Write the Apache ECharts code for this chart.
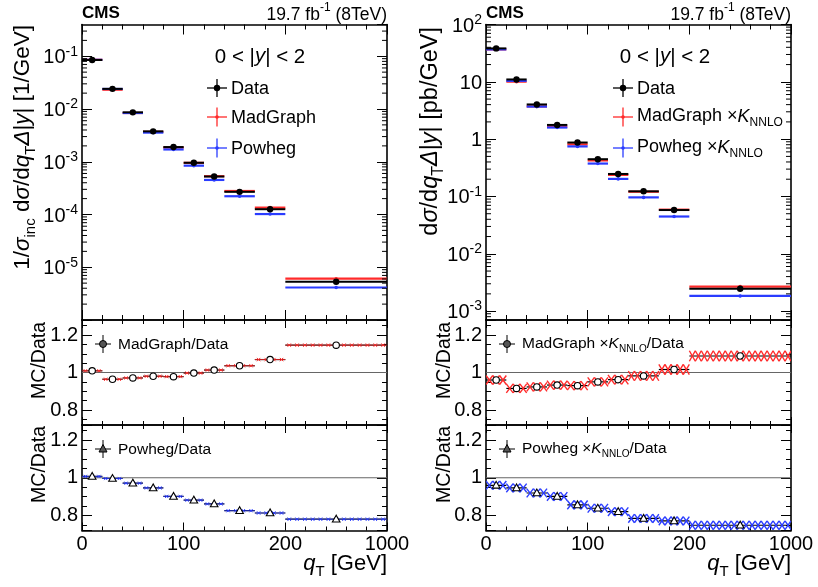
<!DOCTYPE html>
<html><head><meta charset="utf-8">
<script src="https://cdn.jsdelivr.net/npm/echarts@6/dist/echarts.min.js"></script>
<style>html,body{margin:0;padding:0;background:#fff}#c{width:818px;height:587px}</style>
</head><body><div id="c"></div>
<script>
// ---------------- data ----------------
const binEdgesGeV = [0, 20, 40, 60, 80, 100, 120, 140, 170, 200, 1000];
const xTickValuesGeV = [0, 100, 200, 1000];
const xTickLabels = ['0', '100', '200', '1000'];

// left column: normalised cross section 1/sigma_inc dsigma/dqT [1/GeV]
const normData      = [0.085, 0.0241, 0.00865, 0.00377, 0.00190, 0.000957, 0.000525, 0.000269, 0.000126, 5.3e-6];
const normDataErr   = [0.01, 0.01, 0.01, 0.015, 0.015, 0.02, 0.02, 0.025, 0.03, 0.08];
const normMadGraph  = [0.0858, 0.0232, 0.0084, 0.00369, 0.00186, 0.000954, 0.000532, 0.000279, 0.000135, 6.07e-6];
const normPowheg    = [0.0856, 0.0240, 0.0084, 0.00357, 0.00171, 0.000843, 0.000452, 0.000222, 0.000102, 4.13e-6];
const normMcErr     = [0.01, 0.01, 0.01, 0.01, 0.01, 0.01, 0.015, 0.015, 0.02, 0.05];
const ratioMadGraphNorm    = [1.009, 0.964, 0.971, 0.980, 0.978, 0.997, 1.013, 1.036, 1.069, 1.146];
const ratioMadGraphNormErr = [0.002, 0.004, 0.005, 0.006, 0.007, 0.007, 0.008, 0.008, 0.009, 0.009];
const ratioPowhegNorm      = [1.007, 0.996, 0.971, 0.946, 0.901, 0.881, 0.861, 0.825, 0.813, 0.780];
const ratioPowhegNormErr   = [0.003, 0.004, 0.005, 0.006, 0.007, 0.007, 0.008, 0.008, 0.009, 0.009];

// right column: absolute cross section dsigma/dqT [pb/GeV]
const absData       = [38.3, 11.0, 4.03, 1.77, 0.873, 0.447, 0.247, 0.123, 0.058, 0.00246];
const absDataErr    = [0.02, 0.02, 0.02, 0.02, 0.025, 0.025, 0.03, 0.03, 0.035, 0.08];
const absMadGraphK  = [36.8, 10.07, 3.72, 1.65, 0.812, 0.425, 0.238, 0.121, 0.0589, 0.00268];
const absPowhegK    = [36.8, 10.4, 3.70, 1.595, 0.747, 0.375, 0.2025, 0.0964, 0.0447, 0.00184];
const absMcErr      = [0.02, 0.02, 0.02, 0.02, 0.02, 0.02, 0.025, 0.025, 0.03, 0.05];
const ratioMadGraphK    = [0.960, 0.915, 0.923, 0.933, 0.930, 0.950, 0.962, 0.982, 1.016, 1.088];
const ratioMadGraphKErr = [0.024, 0.024, 0.024, 0.024, 0.024, 0.024, 0.025, 0.026, 0.027, 0.028];
const ratioPowhegK      = [0.960, 0.946, 0.919, 0.901, 0.856, 0.838, 0.820, 0.784, 0.771, 0.748];
const ratioPowhegKErr   = [0.023, 0.023, 0.023, 0.023, 0.023, 0.023, 0.023, 0.023, 0.023, 0.023];

const ratioReference = [1, 1];

// ---------------- helpers ----------------
const FONT = '"Liberation Sans", Arial, Helvetica, sans-serif';
const RED = '#ff2a2a', BLUE = '#2a3cff';
// broken q_T scale: 0-200 GeV linear, 200-1000 GeV compressed 8x
function qAxis(q) { return q <= 200 ? q : 200 + (q - 200) / 8; }
const X_MAX = qAxis(1000);

function topRows(vals, rel) {
  return vals.map((v, i) => [qAxis(binEdgesGeV[i]), qAxis(binEdgesGeV[i + 1]), v, v * (1 - rel[i]), v * (1 + rel[i])]);
}
function ratioRows(vals, err) {
  return vals.map((v, i) => [qAxis(binEdgesGeV[i]), qAxis(binEdgesGeV[i + 1]), v, v - err[i], v + err[i]]);
}
function xLabel(v) {
  const i = xTickValuesGeV.findIndex(q => Math.abs(qAxis(q) - v) < 1e-6);
  return i >= 0 ? xTickLabels[i] : '';
}
function logLabel(v) {
  const e = Math.round(Math.log10(v));
  if (e === 0) return '{b|1}';
  if (e === 1) return '{b|10}';
  return '{b|10}{s|' + e + '}';
}
const logRich = {
  b: {fontSize: 20, fontFamily: FONT, color: '#000', verticalAlign: 'top', padding: [3, 0, 0, 0]},
  s: {fontSize: 14, fontFamily: FONT, color: '#000', verticalAlign: 'top'}
};

function topRender(color, r, lw) {
  return function (params, api) {
    const x0 = api.value(0), x1 = api.value(1), v = api.value(2);
    const pa = api.coord([x0, v]), pb = api.coord([x1, v]);
    const xm = (pa[0] + pb[0]) / 2;
    const yl = api.coord([x0, api.value(3)])[1], yh = api.coord([x0, api.value(4)])[1];
    return {type: 'group', children: [
      {type: 'line', shape: {x1: pa[0], y1: pa[1], x2: pb[0], y2: pb[1]}, style: {stroke: color, lineWidth: lw}},
      {type: 'line', shape: {x1: xm, y1: yl, x2: xm, y2: yh}, style: {stroke: color, lineWidth: 1.2}},
      {type: 'circle', shape: {cx: xm, cy: pa[1], r: r}, style: {fill: color}}
    ]};
  };
}

function ratioRender(color, marker, mode, period, hatchW) {
  return function (params, api) {
    const x0 = api.value(0), x1 = api.value(1), v = api.value(2);
    const pa = api.coord([x0, v]), pb = api.coord([x1, v]);
    const yh = api.coord([x0, api.value(4)])[1], yl = api.coord([x0, api.value(3)])[1];
    const xa = pa[0], xb = pb[0], y = pa[1], xm = (xa + xb) / 2;
    const ch = [];
    ch.push({type: 'line', shape: {x1: xa, y1: y, x2: xb, y2: y}, style: {stroke: '#000', lineWidth: 1.2}});
    const n = Math.max(1, Math.round((xb - xa) / period));
    const w = (xb - xa) / n;
    if (mode === 'zigzag') {
      for (let k = 0; k < n; k++) {
        const u = xa + k * w;
        ch.push({type: 'line', shape: {x1: u, y1: yh, x2: u + w, y2: yl}, style: {stroke: color, lineWidth: hatchW}});
        ch.push({type: 'line', shape: {x1: u, y1: yl, x2: u + w, y2: yh}, style: {stroke: color, lineWidth: hatchW}});
      }
    } else {
      const h = Math.max(1.6, (yl - yh) / 2);
      ch.push({type: 'line', shape: {x1: xa, y1: y, x2: xb, y2: y}, style: {stroke: color, lineWidth: 1, opacity: 0.8}});
      for (let k = 0; k < n; k++) {
        const cx = xa + (k + 0.5) * w;
        ch.push({type: 'line', shape: {x1: cx - h, y1: y - h, x2: cx + h, y2: y + h}, style: {stroke: color, lineWidth: hatchW}});
        ch.push({type: 'line', shape: {x1: cx - h, y1: y + h, x2: cx + h, y2: y - h}, style: {stroke: color, lineWidth: hatchW}});
      }
    }
    if (marker === 'circle') {
      ch.push({type: 'circle', shape: {cx: xm, cy: y, r: 3.2}, style: {fill: '#fff', stroke: '#000', lineWidth: 1.1}});
    } else {
      ch.push({type: 'polygon', shape: {points: [[xm, y - 4], [xm - 3.8, y + 2.8], [xm + 3.8, y + 2.8]]}, style: {fill: '#fff', stroke: '#000', lineWidth: 1.1}});
    }
    return {type: 'group', children: ch};
  };
}

function minorTickRender(len) {
  return function (params, api) {
    const cs = params.coordSys;
    const y = api.coord([0, api.value(1)])[1];
    return {type: 'group', children: [
      {type: 'line', shape: {x1: cs.x, y1: y, x2: cs.x + len, y2: y}, style: {stroke: '#000', lineWidth: 1}},
      {type: 'line', shape: {x1: cs.x + cs.width - len, y1: y, x2: cs.x + cs.width, y2: y}, style: {stroke: '#000', lineWidth: 1}}
    ]};
  };
}
function logMinorValues(min, max) {
  const out = [];
  for (let d = -8; d <= 3; d++) for (let k = 2; k <= 9; k++) {
    const v = k * Math.pow(10, d);
    if (v > min * 1.0001 && v < max * 0.9999) out.push([0, v]);
  }
  return out;
}

// ---------------- layout ----------------
const COLS = [82, 486];
const GRID_W = 305;
const PANELS = [{top: 24.5, height: 295.5}, {top: 320, height: 105}, {top: 425, height: 105.5}];

const tops = [
  {min: 1e-6, max: 0.4, data: topRows(normData, normDataErr), mg: topRows(normMadGraph, normMcErr), pw: topRows(normPowheg, normMcErr)},
  {min: 7e-4, max: 100, data: topRows(absData, absDataErr), mg: topRows(absMadGraphK, absMcErr), pw: topRows(absPowhegK, absMcErr)}
];
const ratios = [
  [ {vals: ratioRows(ratioMadGraphNorm, ratioMadGraphNormErr), color: RED, marker: 'circle', mode: 'x', period: 8, hw: 1},
    {vals: ratioRows(ratioPowhegNorm, ratioPowhegNormErr), color: BLUE, marker: 'triangle', mode: 'x', period: 8, hw: 1} ],
  [ {vals: ratioRows(ratioMadGraphK, ratioMadGraphKErr), color: RED, marker: 'circle', mode: 'zigzag', period: 6, hw: 1.4},
    {vals: ratioRows(ratioPowhegK, ratioPowhegKErr), color: BLUE, marker: 'triangle', mode: 'zigzag', period: 6, hw: 1.4} ]
];

const grids = [], xAxes = [], yAxes = [], series = [];
const axisLine = {show: true, onZero: false, lineStyle: {color: '#000', width: 1.6}};

for (let c = 0; c < 2; c++) {
  for (let p = 0; p < 3; p++) {
    const g = c * 3 + p;
    grids.push({left: COLS[c], top: PANELS[p].top, width: GRID_W, height: PANELS[p].height, containLabel: false, outerBoundsMode: 'none'});
    const majorLen = p === 0 ? 10 : 8, minorLen = p === 0 ? 5 : 4;
    ['bottom', 'top'].forEach((pos, k) => {
      xAxes.push({
        type: 'value', gridIndex: g, position: pos, min: 0, max: X_MAX, interval: 100,
        axisLine: axisLine,
        axisTick: {show: true, inside: true, length: majorLen, lineStyle: {color: '#000', width: 1}},
        minorTick: {show: true, splitNumber: 5, length: minorLen, lineStyle: {color: '#000', width: 1}},
        splitLine: {show: false}, minorSplitLine: {show: false},
        axisLabel: {show: p === 2 && k === 0, formatter: xLabel, color: '#000', fontSize: 20, fontFamily: FONT, margin: 4, showMinLabel: true, showMaxLabel: true}
      });
    });
    ['left', 'right'].forEach((pos, k) => {
      if (p === 0) {
        yAxes.push({
          type: 'log', logBase: 10, gridIndex: g, position: pos, min: tops[c].min, max: tops[c].max,
          axisLine: axisLine,
          axisTick: {show: true, inside: true, length: 10, lineStyle: {color: '#000', width: 1}},
          minorTick: {show: false}, splitLine: {show: false}, minorSplitLine: {show: false},
          axisLabel: {show: k === 0, formatter: logLabel, rich: logRich, margin: 4, showMinLabel: false, showMaxLabel: c === 1}
        });
      } else {
        yAxes.push({
          type: 'value', gridIndex: g, position: pos, min: 0.72, max: 1.28, splitNumber: 3,
          axisLine: axisLine,
          axisTick: {show: true, inside: true, length: 10, lineStyle: {color: '#000', width: 1}},
          minorTick: {show: true, splitNumber: 4, length: 5, lineStyle: {color: '#000', width: 1}},
          splitLine: {show: false}, minorSplitLine: {show: false},
          axisLabel: {show: k === 0, color: '#000', fontSize: 20, fontFamily: FONT, margin: 4, showMinLabel: false, showMaxLabel: false,
            formatter: v => Math.abs(v - 1) < 1e-9 ? '1' : v.toFixed(1)}
        });
      }
    });
    const xi = 2 * g, yi = 2 * g;
    if (p === 0) {
      const t = tops[c];
      series.push({type: 'custom', name: c ? 'MadGraph x K_NNLO' : 'MadGraph', xAxisIndex: xi, yAxisIndex: yi, data: t.mg, encode: {x: [0, 1], y: [2, 3, 4]}, renderItem: topRender(RED, 1.8, 2.2), z: 2, silent: true});
      series.push({type: 'custom', name: c ? 'Powheg x K_NNLO' : 'Powheg', xAxisIndex: xi, yAxisIndex: yi, data: t.pw, encode: {x: [0, 1], y: [2, 3, 4]}, renderItem: topRender(BLUE, 1.8, 2.2), z: 3, silent: true});
      series.push({type: 'custom', name: 'Data', xAxisIndex: xi, yAxisIndex: yi, data: t.data, encode: {x: [0, 1], y: [2, 3, 4]}, renderItem: topRender('#000', 3.2, 2), z: 4, silent: true});
      series.push({type: 'custom', name: 'minor ticks', xAxisIndex: xi, yAxisIndex: yi, data: logMinorValues(t.min, t.max), encode: {x: 0, y: 1}, renderItem: minorTickRender(5), z: 5, silent: true});
    } else {
      const r = ratios[c][p - 1];
      series.push({type: 'line', xAxisIndex: xi, yAxisIndex: yi, data: [[0, ratioReference[0]], [X_MAX, ratioReference[1]]], symbol: 'none', silent: true,
        lineStyle: {color: '#666', width: 1.2}, z: 1});
      series.push({type: 'custom', xAxisIndex: xi, yAxisIndex: yi, data: r.vals, encode: {x: [0, 1], y: [2, 3, 4]},
        renderItem: ratioRender(r.color, r.marker, r.mode, r.period, r.hw), z: 3, silent: true, clip: true});
    }
  }
}

// ---------------- texts, legends ----------------
function rich(size) {
  const sub = Math.round(size * 0.66);
  return {
    n: {fontSize: size, fontFamily: FONT, color: '#000', verticalAlign: 'top'},
    i: {fontSize: size, fontFamily: FONT, color: '#000', fontStyle: 'italic', verticalAlign: 'top'},
    g: {fontSize: size, fontFamily: FONT, color: '#000', fontStyle: 'italic', verticalAlign: 'top'},
    bb: {fontSize: size, fontFamily: FONT, color: '#000', fontWeight: 'bold', verticalAlign: 'top'},
    nd: {fontSize: size, fontFamily: FONT, color: '#000', verticalAlign: 'top', padding: [4, 0, 0, 0]},
    sub: {fontSize: sub, fontFamily: FONT, color: '#000', verticalAlign: 'top', padding: [Math.round(size * 0.52), 0, 0, 0]},
    sup: {fontSize: sub, fontFamily: FONT, color: '#000', verticalAlign: 'top'}
  };
}
const graphics = [];
function addText(x, y, text, size, align, vAlign, rotation) {
  graphics.push({type: 'text', x: x, y: y, rotation: rotation || 0, silent: true,
    style: {text: text, rich: rich(size), align: align, verticalAlign: vAlign || 'middle', fontFamily: FONT, fontSize: size, fill: '#000'}});
}
function addLine(x1, y1, x2, y2, color, lw) {
  graphics.push({type: 'line', silent: true, shape: {x1, y1, x2, y2}, style: {stroke: color, lineWidth: lw || 1}});
}
function legendCross(cx, cy, color, r, hw, hh) {
  addLine(cx - hw, cy, cx + hw, cy, color, 1.3);
  addLine(cx, cy - hh, cx, cy + hh, color, 1.3);
  graphics.push({type: 'circle', silent: true, shape: {cx, cy, r}, style: {fill: color}});
}
function ratioLegend(cx, cy, marker) {
  addLine(cx - 8, cy, cx + 8, cy, '#000', 1);
  addLine(cx, cy - 9, cx, cy + 9, '#000', 1);
  if (marker === 'circle') graphics.push({type: 'circle', silent: true, shape: {cx, cy, r: 3.5}, style: {fill: '#555', stroke: '#000', lineWidth: 1}});
  else graphics.push({type: 'polygon', silent: true, shape: {points: [[cx, cy - 4.5], [cx - 4, cy + 3], [cx + 4, cy + 3]]}, style: {fill: '#555', stroke: '#000', lineWidth: 1}});
}

const columnText = [
  {x0: 82, x1: 387, yTitle: '{n|1/}{g|σ}{sub|inc}{n| d}{g|σ}{n|/d}{i|q}{sub|T}{g|Δ}{n||}{i|y}{n|| [1/GeV]}', yTitleX: 25, yTitleY: 25, yTitleSize: 22.5,
   headX: 260, legX: 217, mg: '{n|MadGraph}', pw: '{n|Powheg}', rmg: '{n|MadGraph/Data}', rpw: '{n|Powheg/Data}', rTitleX: 40},
  {x0: 486, x1: 791, yTitle: '{n|d}{g|σ}{n|/d}{i|q}{sub|T}{g|Δ}{n||}{i|y}{n|| [pb/GeV]}', yTitleX: 433, yTitleY: 27, yTitleSize: 23.5,
   headX: 665, legX: 623, mg: '{n|MadGraph ×}{i|K}{sub|NNLO}', pw: '{n|Powheg ×}{i|K}{sub|NNLO}',
   rmg: '{n|MadGraph ×}{i|K}{sub|NNLO}{n|/Data}', rpw: '{n|Powheg ×}{i|K}{sub|NNLO}{n|/Data}', rTitleX: 445}
];
columnText.forEach(t => {
  addText(t.x0, 13, '{bb|CMS}', 17, 'left');
  addText(t.x1, 13, '{nd|19.7 fb}{sup|-1}{nd| (8TeV)}', 17.5, 'right');
  addText(t.yTitleX, t.yTitleY, t.yTitle, t.yTitleSize, 'right', 'middle', Math.PI / 2);
  addText(t.rTitleX, 322, '{n|MC/Data}', 19.5, 'right', 'middle', Math.PI / 2);
  addText(t.rTitleX, 426, '{n|MC/Data}', 19.5, 'right', 'middle', Math.PI / 2);
  addText(t.x1, 566, '{i|q}{sub|T}{n| [GeV]}', 22, 'right');
  addText(t.headX, 57, '{n|0 < |}{i|y}{n|| < 2}', 20.5, 'center');
  legendCross(t.legX, 88, '#000', 3.2, 10, 9);
  legendCross(t.legX, 117, RED, 1.8, 10, 9.5);
  legendCross(t.legX, 148, BLUE, 1.8, 10, 9.5);
  addText(t.legX + 14, 89, '{n|Data}', 18, 'left');
  addText(t.legX + 14, 118, t.mg, 18, 'left');
  addText(t.legX + 14, 149, t.pw, 18, 'left');
  ratioLegend(t.x0 + 21, 344, 'circle');
  ratioLegend(t.x0 + 21, 449, 'triangle');
  addText(t.x0 + 36, 345, t.rmg, 15.5, 'left');
  addText(t.x0 + 36, 450, t.rpw, 15.5, 'left');
});

const chart = echarts.init(document.getElementById('c'), null, {renderer: 'canvas'});
chart.setOption({
  animation: false,
  backgroundColor: '#fff',
  grid: grids, xAxis: xAxes, yAxis: yAxes, series: series, graphic: graphics
});
</script>
</body></html>
